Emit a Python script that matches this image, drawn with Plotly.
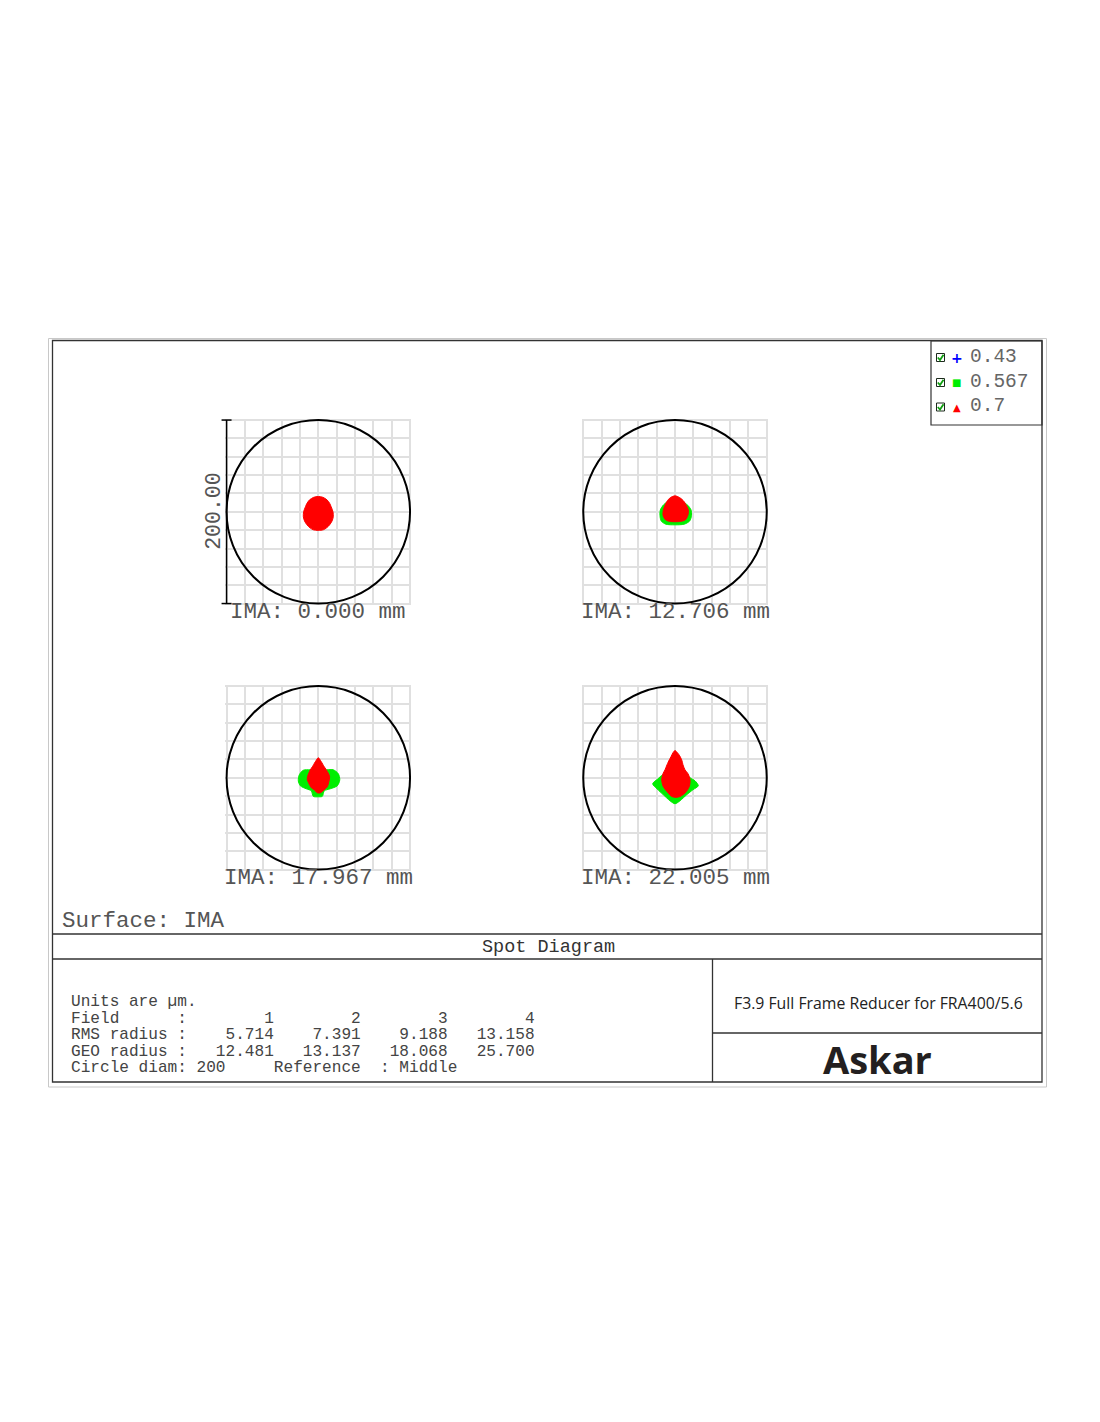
import plotly.graph_objects as go

# ---------------- data ----------------
field_labels = ["IMA: 0.000 mm", "IMA: 12.706 mm", "IMA: 17.967 mm", "IMA: 22.005 mm"]
field_numbers = ["1", "2", "3", "4"]
rms_radius = ["5.714", "7.391", "9.188", "13.158"]
geo_radius = ["12.481", "13.137", "18.068", "25.700"]
wavelengths = ["0.43", "0.567", "0.7"]
wave_colors = ["#0000ff", "#00ee00", "#ff0000"]
circle_diam = 200  # µm
grid_step = 20     # µm
scale_label = "200.00"
surface_label = "Surface: IMA"
chart_title = "Spot Diagram"
design_title = "F3.9 Full Frame Reducer for FRA400/5.6"
brand = "Askar"

# spot outlines (µm, y up), per field
green_f1 = [(0, 14), (8, 11), (13, 5), (14.5, -3), (12, -11), (6, -16), (0, -17),
            (-6, -16), (-12, -11), (-14.5, -3), (-13, 5), (-8, 11)]
red_f1 = [(0, 16.7), (5, 15.8), (9.5, 13), (12.5, 9), (14, 5.5), (16, 0), (16.3, -5.5),
          (15, -10), (12.5, -14), (9, -17.5), (5.5, -19.6), (0, -20.3), (-5.5, -19.6),
          (-9, -17.5), (-12.5, -14), (-15, -10), (-16.3, -5.5), (-16, 0), (-14, 5.5),
          (-12.5, 9), (-9.5, 13), (-5, 15.8)]
green_f2 = [(0, 12), (8, 11), (14, 7), (17.5, 2), (18, -4), (16, -10), (10, -13.5),
            (0, -14.2), (-10, -13.5), (-15, -10), (-16.4, -4), (-16, 2), (-13, 7), (-8, 11)]
red_f2 = [(0, 17.4), (5, 15.5), (10, 11), (14.5, 2), (14, -4), (11, -9), (5, -10.6),
          (0, -10.8), (-5, -10.6), (-10, -9), (-13, -4), (-12.7, 2), (-9, 11), (-5, 15.5)]
green_f3 = [(-8.7, 8.7), (-16.4, 8.2), (-20.7, 3.3), (-21.8, -3.3), (-19.6, -8.7),
            (-13, -12), (-7.6, -14.2), (-5.5, -20.2), (0, -20.7), (4.4, -20.2),
            (6.5, -14.2), (13, -12), (20.7, -8.7), (23.4, -2.2), (21.8, 4.4),
            (16.4, 8.7), (8.7, 8.7)]
red_f3 = [(0, 21.8), (-3.3, 17.4), (-6.5, 12), (-8.7, 8.7), (-11.7, 1.4), (-12, -2.2),
          (-10.6, -5.5), (-7.6, -10.9), (-4.4, -13), (-1.1, -16.4), (2.2, -16.4),
          (6.5, -13), (9.8, -9.8), (11.2, -5.5), (12.3, 1.4), (8.7, 8.7), (6.5, 12),
          (3.3, 17.4)]
green_f4 = [(-13, 3.3), (-18.5, -1.1), (-24.3, -6.5), (-19.6, -12), (-12.7, -18.5),
            (-5.5, -25), (0, -28.3), (5.5, -25), (12.7, -18.5), (19.6, -13),
            (25.4, -8.7), (21.8, -3.3), (16.4, 0), (13, 3.3)]
red_f4 = [(0, 29.8), (-2.2, 27.3), (-4.4, 22.9), (-6.2, 19.6), (-8.7, 14.2),
          (-10.9, 8.7), (-13.1, 4.4), (-14.5, -2.2), (-12.8, -9.5), (-7.3, -16.7),
          (-3.6, -20.4), (1.1, -21.3), (5.5, -20.4), (10.9, -16.7), (15.6, -9.5),
          (16.4, -2.2), (14.2, 4.4), (10.9, 8.7), (8.7, 14.2), (7.3, 19.6),
          (4.4, 25.1), (2.2, 27.8)]
spots_green = [green_f1, green_f2, green_f3, green_f4]
spots_red = [red_f1, red_f2, red_f3, red_f4]

# ---------------- layout geometry (pixels) ----------------
W, H = 1100, 1422
OFF = 8  # page body margin
def px(x): return (x - OFF) / W
def py(y): return 1 - (y - OFF) / H

centers_x = [318.3, 675.0, 318.3, 675.0]
centers_y = [511.8, 511.8, 777.8, 777.8]
scale = 183.5 / circle_diam      # px per µm
R = circle_diam / 2 + 1.5        # axis half-range (µm)
hw = R * scale

MONO = "Courier New, Liberation Mono, monospace"
GRAY = "#555555"

fig = go.Figure()
layout_axes = {}
shapes = []
annotations = []

for i in range(4):
    ax = "" if i == 0 else str(i + 1)
    cx, cy = centers_x[i], centers_y[i]
    layout_axes["xaxis" + ax] = dict(
        domain=[px(cx - hw), px(cx + hw)], range=[-R, R], anchor="y" + ax,
        showgrid=True, gridcolor="#e0e0e0", gridwidth=2, tick0=-100, dtick=grid_step,
        showticklabels=False, ticks="", zeroline=False, showline=False, fixedrange=True)
    layout_axes["yaxis" + ax] = dict(
        domain=[py(cy + hw), py(cy - hw)], range=[-R, R], anchor="x" + ax,
        showgrid=True, gridcolor="#e0e0e0", gridwidth=2, tick0=-100, dtick=grid_step,
        showticklabels=False, ticks="", zeroline=False, showline=False, fixedrange=True)
    for pts, col in ((spots_green[i], wave_colors[1]), (spots_red[i], wave_colors[2])):
        xs = [p[0] for p in pts] + [pts[0][0]]
        ys = [p[1] for p in pts] + [pts[0][1]]
        fig.add_trace(go.Scatter(x=xs, y=ys, xaxis="x" + ax, yaxis="y" + ax,
                                 mode="lines", fill="toself", fillcolor=col,
                                 line=dict(color=col, width=1, shape="spline", smoothing=0.8),
                                 hoverinfo="skip", showlegend=False))
    shapes.append(dict(type="circle", xref="x" + ax, yref="y" + ax,
                       x0=-circle_diam / 2, x1=circle_diam / 2,
                       y0=-circle_diam / 2, y1=circle_diam / 2,
                       line=dict(color="#000000", width=2)))
    annotations.append(dict(x=px(cx), y=py(cy + 100), xref="paper", yref="paper",
                            text=field_labels[i].replace(" ", "\u00a0"), showarrow=False,
                            xanchor="center", yanchor="middle",
                            font=dict(family=MONO, size=22.5, color=GRAY)))

# scale bar on first plot
sbx = centers_x[0] - circle_diam / 2 * scale
sb_top = centers_y[0] - circle_diam / 2 * scale
sb_bot = centers_y[0] + circle_diam / 2 * scale
line_k = dict(color="#000000", width=1.5)
shapes += [
    dict(type="line", xref="paper", yref="paper", x0=px(sbx), x1=px(sbx), y0=py(sb_top), y1=py(sb_bot), line=line_k),
    dict(type="line", xref="paper", yref="paper", x0=px(sbx - 5), x1=px(sbx + 5), y0=py(sb_top), y1=py(sb_top), line=line_k),
    dict(type="line", xref="paper", yref="paper", x0=px(sbx - 5), x1=px(sbx + 5), y0=py(sb_bot), y1=py(sb_bot), line=line_k),
]
annotations.append(dict(x=px(214), y=py(centers_y[0]), xref="paper", yref="paper",
                        text=scale_label, textangle=-90, showarrow=False,
                        xanchor="center", yanchor="middle",
                        font=dict(family=MONO, size=21.5, color=GRAY)))

# frames
def rect(x0, y0, x1, y1, color, width, fill=None):
    d = dict(type="rect", xref="paper", yref="paper", x0=px(x0), x1=px(x1),
             y0=py(y1), y1=py(y0), line=dict(color=color, width=width))
    if fill:
        d["fillcolor"] = fill
    return d

def hline(x0, x1, y, color="#333333", width=1.3):
    return dict(type="line", xref="paper", yref="paper", x0=px(x0), x1=px(x1),
                y0=py(y), y1=py(y), line=dict(color=color, width=width))

def vline(x, y0, y1, color="#333333", width=1.3):
    return dict(type="line", xref="paper", yref="paper", x0=px(x), x1=px(x),
                y0=py(y0), y1=py(y1), line=dict(color=color, width=width))

shapes += [
    rect(48.5, 338.5, 1046.5, 1087, "#c8c8c8", 1),
    rect(52.5, 340.5, 1042, 1082, "#333333", 1.3),
    hline(52.5, 1042, 934),
    hline(52.5, 1042, 959),
    vline(712.5, 959, 1082),
    hline(712.5, 1042, 1033),
    rect(931, 341, 1042, 425, "#333333", 1.2),
]

# legend
leg_y = [357.5, 382.5, 407]
leg_sym = ["+", "\u25a0", "\u25b2"]
leg_sym_size = [14, 10, 10]
for k in range(3):
    y = leg_y[k]
    shapes.append(rect(936.5, y - 4, 944.5, y + 4, "#1c2a1c", 1, fill="#ffffff"))
    shapes.append(dict(type="path", xref="paper", yref="paper",
                       path=f"M {px(937.8)},{py(y)} L {px(940)},{py(y + 2.5)} L {px(943.5)},{py(y - 2.8)}",
                       line=dict(color="#10a010", width=1.8)))
    annotations.append(dict(x=px(956.8), y=py(y), xref="paper", yref="paper",
                            text=f"<b>{leg_sym[k]}</b>", showarrow=False, xanchor="center", yanchor="middle",
                            font=dict(family="DejaVu Sans", size=leg_sym_size[k], color=wave_colors[k])))
    annotations.append(dict(x=px(968), y=py(y - 1), xref="paper", yref="paper",
                            text=wavelengths[k], showarrow=False, xanchor="left", yanchor="middle",
                            font=dict(family=MONO, size=19.5, color="#666666")))

# texts
annotations.append(dict(x=px(60), y=py(921), xref="paper", yref="paper",
                        text=surface_label.replace(" ", "\u00a0"), showarrow=False,
                        xanchor="left", yanchor="middle",
                        font=dict(family=MONO, size=22.5, color=GRAY)))
annotations.append(dict(x=px(548), y=py(947.5), xref="paper", yref="paper",
                        text=chart_title.replace(" ", "\u00a0"), showarrow=False,
                        xanchor="center", yanchor="middle",
                        font=dict(family=MONO, size=18.5, color="#333333")))

table_lines = [
    "Units are \u00b5m.",
    f"{'Field':<11}:" + "".join(f"{v:>9}" for v in field_numbers),
    f"{'RMS radius':<11}:" + "".join(f"{v:>9}" for v in rms_radius),
    f"{'GEO radius':<11}:" + "".join(f"{v:>9}" for v in geo_radius),
    f"{'Circle diam':<11}: {circle_diam}" + " " * 5 + "Reference" + "  : Middle",
]
table_y = [1002, 1018.5, 1035, 1051.5, 1068]
for t, y in zip(table_lines, table_y):
    annotations.append(dict(x=px(69), y=py(y), xref="paper", yref="paper",
                            text=t.replace(" ", "\u00a0"), showarrow=False,
                            xanchor="left", yanchor="middle",
                            font=dict(family=MONO, size=16.1, color="#444444")))

annotations.append(dict(x=px(878), y=py(1003), xref="paper", yref="paper",
                        text=design_title, showarrow=False, xanchor="center", yanchor="middle",
                        font=dict(family="Open Sans", size=15.8, color="#222222")))
annotations.append(dict(x=px(877), y=py(1059), xref="paper", yref="paper",
                        text=f"<b>{brand}</b>", showarrow=False, xanchor="center", yanchor="middle",
                        font=dict(family="Open Sans", size=38, color="#231f20")))

fig.update_layout(width=W, height=H, margin=dict(l=0, r=0, t=0, b=0),
                  paper_bgcolor="#ffffff", plot_bgcolor="#ffffff",
                  showlegend=False, shapes=shapes, annotations=annotations, **layout_axes)

fig.write_html("out.html")
